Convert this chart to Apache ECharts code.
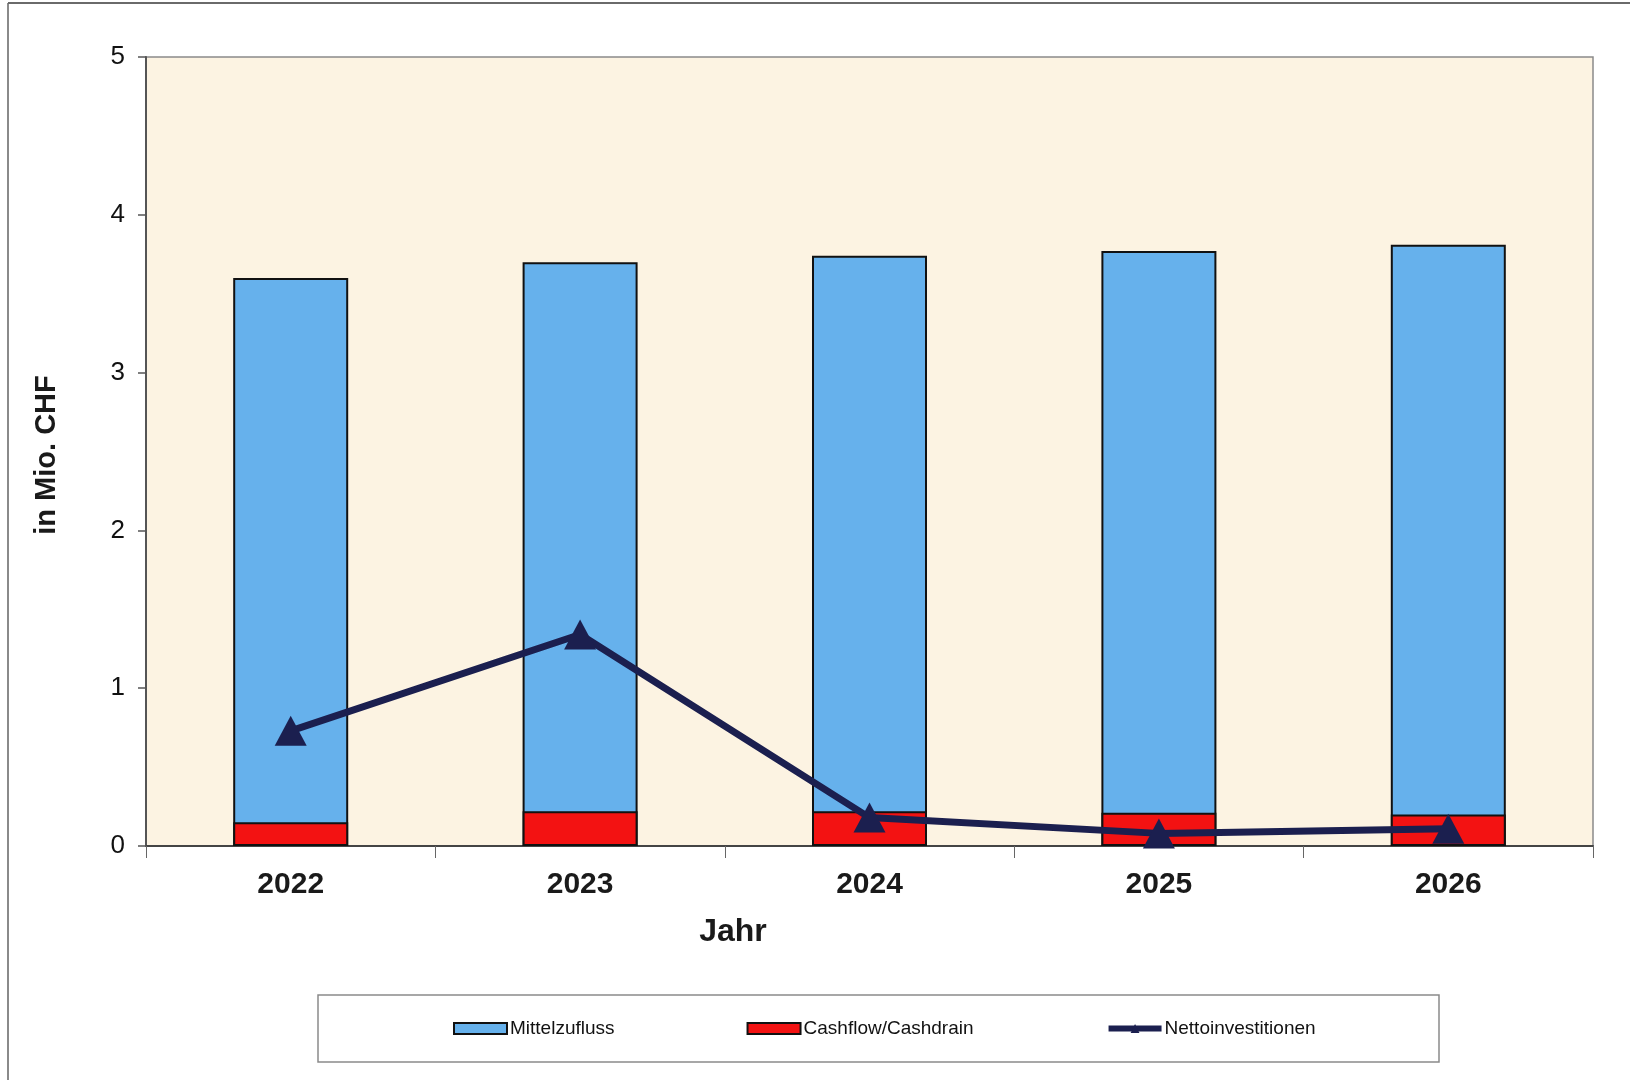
<!DOCTYPE html>
<html>
<head>
<meta charset="utf-8">
<script src="https://cdn.jsdelivr.net/npm/echarts@6/dist/echarts.min.js"></script>
<style>
html,body{margin:0;padding:0;background:#fff;}
#c{width:1630px;height:1080px;}
</style>
</head>
<body>
<div id="c"></div>
<script>
const years = ['2022', '2023', '2024', '2025', '2026'];
const mittelzufluss = [3.60, 3.70, 3.74, 3.77, 3.81];
const cashflow = [0.15, 0.22, 0.22, 0.21, 0.20];
const nettoinvestitionen = [0.73, 1.34, 0.18, 0.08, 0.11];
const yTicks = [0, 1, 2, 3, 4, 5];

const chart = echarts.init(document.getElementById('c'), null, {renderer: 'canvas'});
const font = 'Liberation Sans, Arial, sans-serif';

chart.setOption({
  animation: false,
  backgroundColor: '#ffffff',
  textStyle: {fontFamily: font},
  grid: {
    left: 146, right: 37, top: 57, bottom: 234,
    show: true, backgroundColor: '#fcf3e2', borderColor: '#8a8a8a', borderWidth: 1.5
  },
  legend: {
    left: 453, top: 1019, padding: 0,
    itemWidth: 53, itemHeight: 11, itemGap: 132,
    textStyle: {fontSize: 19, color: '#111', fontFamily: font, padding: [0, 0, 0, -2]},
    data: [
      {name: 'Mittelzufluss', icon: 'rect'},
      {name: 'Cashflow/Cashdrain', icon: 'rect'},
      {name: 'Nettoinvestitionen', lineStyle: {width: 6, color: '#1b1f4f'}}
    ]
  },
  xAxis: {
    type: 'category',
    data: years,
    boundaryGap: true,
    axisLine: {lineStyle: {color: '#444', width: 2}},
    axisTick: {show: true, alignWithLabel: false, length: 12, lineStyle: {color: '#666', width: 1}},
    axisLabel: {fontSize: 30, fontWeight: 'bold', color: '#1a1a1a', margin: 24, fontFamily: font},
    splitLine: {show: false}
  },
  yAxis: {
    type: 'value',
    min: 0, max: 5, interval: 1,
    axisLine: {show: true, lineStyle: {color: '#555', width: 2}},
    axisTick: {show: true, inside: false, length: 8, lineStyle: {color: '#555', width: 1.5}},
    axisLabel: {fontSize: 26, color: '#111', margin: 21, fontFamily: font,
      formatter: function (v) { return yTicks.indexOf(v) >= 0 ? String(v) : ''; }},
    splitLine: {show: false}
  },
  series: [
    {
      name: 'Mittelzufluss', type: 'bar', data: mittelzufluss,
      barWidth: 115, barGap: '-100%', z: 2,
      itemStyle: {color: '#66b1ec', borderColor: '#111', borderWidth: 2}
    },
    {
      name: 'Cashflow/Cashdrain', type: 'bar', data: cashflow,
      barWidth: 115, barGap: '-100%', z: 3,
      itemStyle: {color: '#f31212', borderColor: '#111', borderWidth: 2}
    },
    {
      name: 'Nettoinvestitionen', type: 'line', data: nettoinvestitionen, z: 5,
      symbol: 'triangle', symbolSize: [32, 30],
      lineStyle: {color: '#1b1f4f', width: 7},
      itemStyle: {color: '#1b1f4f'}
    }
  ],
  graphic: [
    {type: 'line', shape: {x1: 8, y1: 3, x2: 8, y2: 1080}, style: {stroke: '#8a8a8a', lineWidth: 2}},
    {type: 'line', shape: {x1: 8, y1: 3, x2: 1630, y2: 3}, style: {stroke: '#6a6a6a', lineWidth: 2}},
    {type: 'rect', z: -1, shape: {x: 318, y: 995, width: 1121, height: 67},
      style: {fill: '#ffffff', stroke: '#8a8a8a', lineWidth: 1.5}},
    {type: 'text', x: 733, y: 932,
      style: {text: 'Jahr', font: 'bold 32px ' + font, fill: '#1a1a1a', textAlign: 'center', textVerticalAlign: 'middle'}},
    {type: 'text', x: 47, y: 455, rotation: Math.PI / 2,
      style: {text: 'in Mio. CHF', font: 'bold 29px ' + font, fill: '#1a1a1a', textAlign: 'center', textVerticalAlign: 'middle'}}
  ]
});
</script>
</body>
</html>
